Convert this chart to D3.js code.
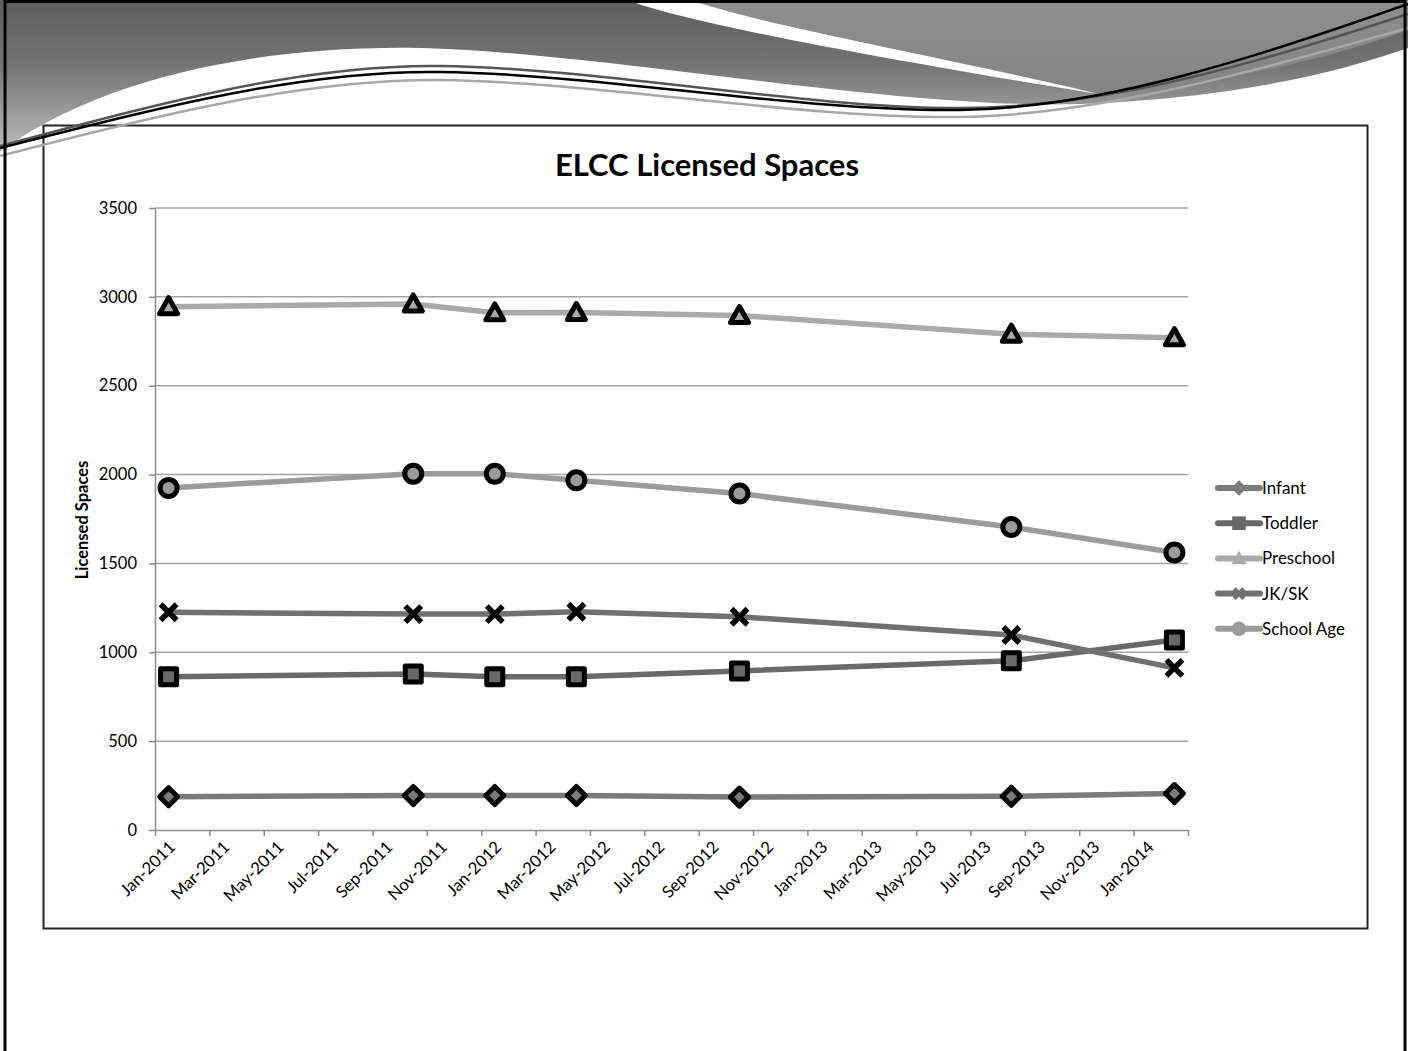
<!DOCTYPE html>
<html>
<head>
<meta charset="utf-8">
<script src="https://cdn.jsdelivr.net/npm/d3@7"></script>
<style>
  body { margin: 0; background: #fff; }
  svg { display: block; font-family: Lato, "Open Sans", sans-serif; }
</style>
</head>
<body>
<svg id="chart" width="1408" height="1051"></svg>
<script>
// data
const dates = ["2011-01", "2011-10", "2012-01", "2012-04", "2012-10", "2013-08", "2014-02"];
const infant = [187, 194, 194, 194, 185, 190, 205];
const toddler = [862, 878, 862, 862, 895, 952, 1069];
const preschool = [2945, 2960, 2910, 2912, 2895, 2790, 2770];
const jksk = [1225, 1215, 1215, 1228, 1200, 1097, 912];
const schoolAge = [1925, 2005, 2005, 1968, 1893, 1705, 1562];
const seriesNames = ["Infant", "Toddler", "Preschool", "JK/SK", "School Age"];
const yTicks = [0, 500, 1000, 1500, 2000, 2500, 3000, 3500];

const svg = d3.select("#chart");

// chart box (drawn under the slide decoration)
svg.append("rect").attr("x", 43.5).attr("y", 125.5).attr("width", 1324).attr("height", 803)
  .attr("fill", "#fff").attr("stroke", "#222").attr("stroke-width", 2);

// ---- slide decoration (header swoosh) ----
const defs = svg.append("defs");
const g1 = defs.append("linearGradient").attr("id", "bgGrad")
  .attr("gradientUnits", "userSpaceOnUse")
  .attr("x1", 0).attr("y1", 0).attr("x2", 0).attr("y2", 155);
g1.append("stop").attr("offset", "0%").attr("stop-color", "#5e5e5e");
g1.append("stop").attr("offset", "40%").attr("stop-color", "#727272");
g1.append("stop").attr("offset", "100%").attr("stop-color", "#bdbdbd");
const g2 = defs.append("linearGradient").attr("id", "midGrad")
  .attr("x1", 0).attr("y1", 0).attr("x2", 0).attr("y2", 1);
g2.append("stop").attr("offset", "0%").attr("stop-color", "#8e8e8e");
g2.append("stop").attr("offset", "100%").attr("stop-color", "#848484");

const deco = svg.append("g");
// gray header area above the slide body
deco.append("path")
  .attr("d", "M0,0 L1408,0 L1408,48 C1330,75 1230,98 1080,104 C900,110 600,52 420,48 C240,45 90,85 0,152 Z")
  .attr("fill", "url(#bgGrad)");
// upper right mid gray area
deco.append("path")
  .attr("d", "M660,0 C740,25 950,62 1095,93 C1200,88 1320,62 1408,30 L1408,0 Z")
  .attr("fill", "url(#midGrad)");
// white swoosh
deco.append("path")
  .attr("d", "M628,0 C680,22 900,62 1098,94 C950,58 760,25 691,0 Z")
  .attr("fill", "#fff");
// thin wave lines
deco.append("path")
  .attr("d", "M0,156 C150,117 300,79 440,80 C600,82 800,119 960,117 C1100,115 1250,72 1408,28")
  .attr("fill", "none").attr("stroke", "#a8a8a8").attr("stroke-width", 2.5);
deco.append("path")
  .attr("d", "M0,146 C150,106 300,64 440,66 C600,68 800,108 960,108 C1100,108 1250,66 1408,14")
  .attr("fill", "none").attr("stroke", "#555").attr("stroke-width", 2.5);
deco.append("path")
  .attr("d", "M0,148 C150,110 300,70 440,72 C600,74 800,112 960,110 C1100,108 1250,60 1408,4")
  .attr("fill", "none").attr("stroke", "#000").attr("stroke-width", 2.5);

// slide frame
svg.append("rect").attr("x", 5).attr("y", 1.5).attr("width", 1400).attr("height", 1060)
  .attr("fill", "none").attr("stroke", "#000").attr("stroke-width", 3);

// title
svg.append("text").attr("x", 707).attr("y", 176).attr("text-anchor", "middle")
  .attr("font-size", 31).attr("font-weight", "bold").attr("fill", "#000")
  .text("ELCC Licensed Spaces");

// ---- scales ----
const monthStart = new Date(2011, 0, 1);
const monthEnd = new Date(2014, 2, 1);
const months = d3.timeMonth.range(monthStart, monthEnd);
const parse = d3.timeParse("%Y-%m");
const fmt = d3.timeFormat("%b-%Y");

const x = d3.scaleLinear().domain([0, months.length]).range([155, 1188]);
const y = d3.scaleLinear().domain([0, 3500]).range([830, 208]);
const half = (x(1) - x(0)) / 2;
const px = d => x(d3.timeMonth.count(monthStart, parse(d))) + half;

// gridlines
svg.append("g").selectAll("line").data(yTicks.filter(v => v > 0)).join("line")
  .attr("x1", x(0)).attr("x2", x(months.length))
  .attr("y1", d => y(d)).attr("y2", d => y(d))
  .attr("stroke", "#a3a3a3").attr("stroke-width", 1.5);

// y axis
const yAxis = svg.append("g").attr("transform", `translate(${x(0)},0)`)
  .call(d3.axisLeft(y).tickValues(yTicks).tickFormat(d3.format("d"))
    .tickSize(6).tickSizeOuter(0).tickPadding(12));
yAxis.attr("font-family", null).attr("font-size", null);
yAxis.selectAll("text").attr("font-size", 16.5).attr("fill", "#000");

// x axis
const xAxis = svg.append("g").attr("transform", `translate(0,${y(0)})`)
  .call(d3.axisBottom(x).tickValues(d3.range(0, months.length + 1, 2))
    .tickSize(6).tickSizeOuter(0)
    .tickFormat(i => i < months.length ? fmt(months[i]) : ""));
xAxis.attr("font-family", null).attr("font-size", null);
xAxis.selectAll("text")
  .attr("font-size", 16.7).attr("fill", "#000")
  .attr("x", null).attr("y", null).attr("dy", "0.35em")
  .attr("text-anchor", "end")
  .attr("transform", `translate(${half + 3},14) rotate(-45)`);

[yAxis, xAxis].forEach(a => {
  a.selectAll(".domain, .tick line").attr("stroke", "#8c8c8c").attr("stroke-width", 1.5);
});

// y axis title
svg.append("text").attr("transform", "translate(88,520) rotate(-90)")
  .attr("text-anchor", "middle").attr("font-size", 16.5).attr("font-weight", "bold")
  .text("Licensed Spaces");

// ---- markers ----
const markerPath = {
  diamond: "M0,-9L9,0L0,9L-9,0Z",
  square: "M-8,-8H8V8H-8Z",
  triangle: "M0,-9L9,7H-9Z",
  circle: "M8.5,0A8.5,8.5 0 1,1 -8.5,0A8.5,8.5 0 1,1 8.5,0Z",
  cross: "M-8,-8L8,8M-8,8L8,-8"
};

const series = [
  { name: seriesNames[0], values: infant, color: "#7b7b7b", marker: "diamond" },
  { name: seriesNames[1], values: toddler, color: "#696969", marker: "square" },
  { name: seriesNames[2], values: preschool, color: "#aaaaaa", marker: "triangle" },
  { name: seriesNames[3], values: jksk, color: "#707070", marker: "cross" },
  { name: seriesNames[4], values: schoolAge, color: "#9b9b9b", marker: "circle" }
];

const line = d3.line().x(d => px(d.date)).y(d => y(d.value));

series.forEach(s => {
  const pts = dates.map((d, i) => ({ date: d, value: s.values[i] }));
  const g = svg.append("g");
  g.append("path").datum(pts).attr("d", line)
    .attr("fill", "none").attr("stroke", s.color).attr("stroke-width", 5.5)
    .attr("stroke-linejoin", "round");
  g.selectAll(".m").data(pts).join("path")
    .attr("transform", d => `translate(${px(d.date)},${y(d.value)})`)
    .attr("d", markerPath[s.marker])
    .attr("fill", s.marker === "cross" ? "none" : s.color)
    .attr("stroke", "#000")
    .attr("stroke-width", s.marker === "cross" ? 5.5 : 5)
    .attr("stroke-linejoin", "round");
});

// ---- legend ----
const legend = svg.append("g").attr("transform", "translate(1218,488)");
const rows = legend.selectAll("g").data(series).join("g")
  .attr("transform", (d, i) => `translate(0,${i * 35.2})`);
rows.append("line").attr("x1", 0).attr("x2", 42)
  .attr("stroke", d => d.color).attr("stroke-width", 6).attr("stroke-linecap", "round");
rows.append("path")
  .attr("transform", d => `translate(21,0) scale(${d.marker === "cross" ? 0.6 : 0.85})`)
  .attr("d", d => markerPath[d.marker])
  .attr("fill", d => d.marker === "cross" ? "none" : d.color)
  .attr("stroke", d => d.marker === "cross" ? d.color : "none")
  .attr("stroke-width", 7);
rows.append("text").attr("x", 44).attr("dy", "0.35em")
  .attr("font-size", 17).attr("fill", "#000")
  .text(d => d.name);
</script>
</body>
</html>
